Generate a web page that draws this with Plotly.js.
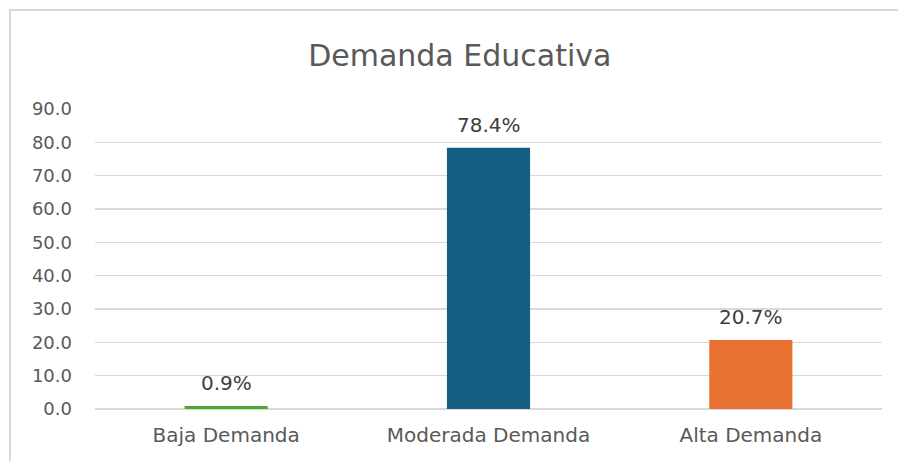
<!DOCTYPE html>
<html>
<head>
<meta charset="utf-8">
<script src="https://cdn.plot.ly/plotly-3.0.1.min.js"></script>
<style>
  html, body { margin: 0; padding: 0; background: #ffffff; }
  #chart { width: 898px; height: 461px; }
</style>
</head>
<body>
<div id="chart"></div>
<script>
const categories = ["Baja Demanda", "Moderada Demanda", "Alta Demanda"];
const values = [0.9, 78.4, 20.7];
const valueLabels = ["0.9%", "78.4%", "20.7%"];
const barColors = ["#4EA72E", "#156082", "#E97132"];
const yTickValues = [0, 10, 20, 30, 40, 50, 60, 70, 80, 90];
const chartTitle = "Demanda Educativa";

const FONT = "DejaVu Sans, Verdana, sans-serif";

const trace = {
  type: "bar",
  x: categories,
  y: values,
  marker: { color: barColors },
  hoverinfo: "none"
};

const annotations = categories.map((c, i) => ({
  x: c, y: values[i], xref: "x", yref: "y",
  text: valueLabels[i], showarrow: false,
  yanchor: "bottom", yshift: 9,
  font: { family: FONT, size: 20, color: "#404040" }
}));

const layout = {
  width: 898, height: 461,
  margin: { l: 95, r: 16, t: 109, b: 52 },
  paper_bgcolor: "#ffffff",
  plot_bgcolor: "#ffffff",
  showlegend: false,
  bargap: 0.683,
  title: {
    text: chartTitle,
    font: { family: FONT, size: 30, color: "#595959" },
    x: 0.512, xanchor: "center", xref: "container",
    y: 0.88, yanchor: "middle", yref: "container"
  },
  xaxis: {
    type: "category",
    showgrid: false,
    showline: false,
    zeroline: false,
    ticks: "",
    ticklabelstandoff: 12,
    tickfont: { family: FONT, size: 20, color: "#595959" }
  },
  yaxis: {
    range: [0, 90],
    tickvals: yTickValues,
    tickformat: ".1f",
    showgrid: true,
    gridcolor: "#d9d9d9",
    gridwidth: 1.3,
    zeroline: true,
    zerolinecolor: "#d9d9d9",
    zerolinewidth: 1.3,
    showline: false,
    ticks: "",
    ticklabelstandoff: 22,
    tickfont: { family: FONT, size: 18, color: "#595959" }
  },
  annotations: annotations,
  shapes: [{
    type: "path", xref: "paper", yref: "paper",
    path: "M -0.108 -0.18 L -0.108 1.33 L 1.03 1.33",
    line: { color: "#d9d9d9", width: 2 },
    layer: "below"
  }]
};

Plotly.newPlot("chart", [trace], layout, { displayModeBar: false, staticPlot: true });
</script>
</body>
</html>
